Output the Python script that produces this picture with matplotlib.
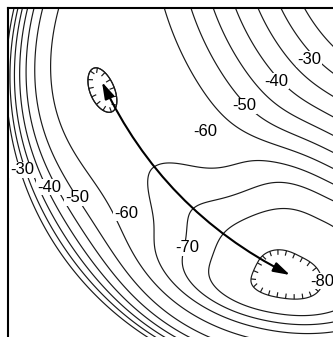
import numpy as np
import matplotlib.pyplot as plt
from matplotlib import patheffects
from matplotlib.patches import FancyArrowPatch

plt.rcParams["font.family"] = ["Liberation Sans", "DejaVu Sans"]
plt.rcParams["contour.negative_linestyle"] = "solid"

# contour levels drawn in the figure
levels = [-80, -75, -70, -65, -60, -55, -50, -45, -40, -35, -30]

# labelled values and where their labels sit (plot units)
label_text = ["-30", "-40", "-50", "-60", "-30", "-40", "-50", "-60", "-70", "-80"]
label_x = [309, 276, 244, 205, 22, 49, 77, 126, 187, 322]
label_y = [59, 81, 106, 131, 170, 187, 198, 213, 248, 281]

# energy surface (plot units ~ pixels of the original)
floor_center = [464.0, -81.0]   # centre of the curved valley floor
floor_radius = 398.0
wall_center = [314.0, 78.0]     # centre of the steep outer wall
wall_radius = 308.0             # where the outer wall reaches -30
base_energy = -61.5

inner_knee = 84.0
inner_slope = 0.24
inner_soft = 8.0

# minima along the valley: angle on the floor arc (deg), offset, depth, widths
well_angle = [25.0, 44.0, 64.2]
well_offset = [3.0, 0.0, 0.0]
well_depth = [-4.5, -4.5, -19.3]
well_width_angle = [6.5, 9.0, 15.0]
well_power = [2.0, 2.0, 2.7]
well_width_in = [25.0, 40.0, 110.0]
well_width_out = [25.0, 32.0, 400.0]

# reaction path between the two minima
path_start = [102, 82]
path_end = [290, 275]


def energy(x, y):
    rho = np.hypot(floor_center[0] - x, y - floor_center[1])
    theta = np.degrees(np.arctan2(y - floor_center[1], floor_center[0] - x))
    u = rho - floor_radius

    d2 = np.hypot(x - wall_center[0], y - wall_center[1])
    psi = np.degrees(np.arctan2(y - wall_center[1], wall_center[0] - x))
    d0 = 240.0 - 40.0 * np.exp(-((psi - 33.0) / 20.0) ** 2)
    t = np.clip((d2 - d0) / (wall_radius - d0), 0, None)

    v = base_energy + (-30.0 - base_energy) * t ** 3
    v = v + inner_slope * inner_soft * np.logaddexp(0, (-u - inner_knee) / inner_soft)

    cut = np.exp(-(np.clip(d2 - 200.0, 0, None) / 50.0) ** 4)
    for k in range(len(well_angle)):
        fa = np.exp(-np.abs((theta - well_angle[k]) / well_width_angle[k]) ** well_power[k])
        uu = u - well_offset[k]
        fu = np.where(uu < 0, np.exp(-(uu / well_width_in[k]) ** 2),
                      np.exp(-(uu / well_width_out[k]) ** 2))
        v = v + well_depth[k] * fa * fu * cut
    return v


xs = np.linspace(0, 345, 500)
ys = np.linspace(0, 345, 500)
X, Y = np.meshgrid(xs, ys)
Z = energy(X, Y)

fig = plt.figure(figsize=(3.33, 3.37), dpi=100)
ax = fig.add_axes([8 / 333, 0, 325 / 333, 329 / 337])

line_kw = dict(colors="#1a1a1a", linewidths=0.85, linestyles="solid")
plain = [lv for lv in levels if lv != -80]
ax.contour(X, Y, Z, levels=plain, **line_kw)

# closed depressions drawn with inward ticks
ticks = [patheffects.withTickedStroke(angle=90, spacing=6, length=0.6)]
cs80 = ax.contour(X, Y, Z, levels=[-80], **line_kw)
cs80.set(path_effects=ticks)
near_up = np.hypot(X - 100, Y - 88) < 60
cs65 = ax.contour(X, Y, np.where(near_up, Z, -60.0), levels=[-65], **line_kw)
cs65.set(path_effects=ticks)

for txt, lx, ly in zip(label_text, label_x, label_y):
    ax.text(lx, ly, txt, fontsize=12, ha="center", va="center", zorder=5,
            bbox=dict(facecolor="white", edgecolor="none", pad=0.5))

arrow = FancyArrowPatch(path_start, path_end, connectionstyle="arc3,rad=0.17",
                        arrowstyle="<|-|>,head_length=1.0,head_width=0.3",
                        mutation_scale=10, lw=1.5, color="black",
                        shrinkA=0, shrinkB=0, zorder=6)
ax.add_patch(arrow)

ax.set_xlim(8, 333)
ax.set_ylim(337, 8)
ax.set_xticks([])
ax.set_yticks([])
ax.spines["right"].set_visible(False)
ax.spines["bottom"].set_visible(False)
ax.spines["top"].set_linewidth(1.5)
ax.spines["left"].set_linewidth(1.5)

fig.savefig("out.png", dpi=100)
